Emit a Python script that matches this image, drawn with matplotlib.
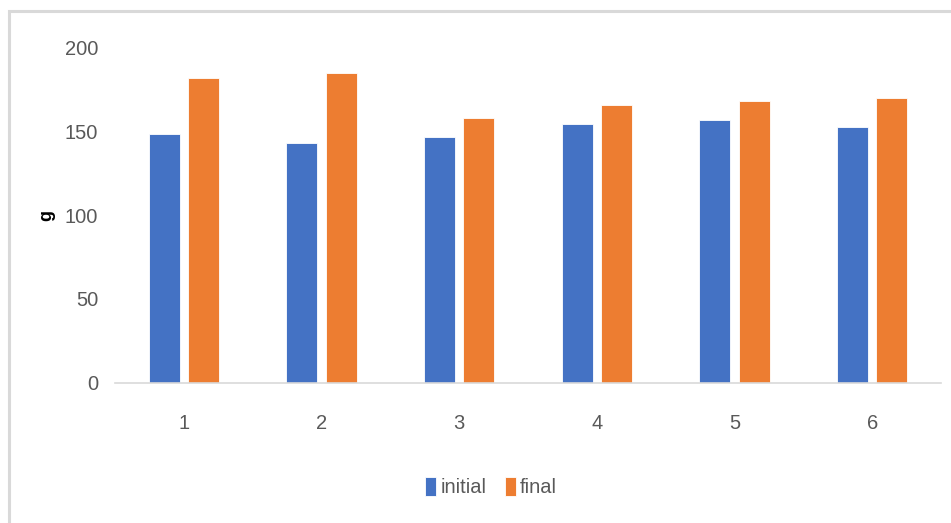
import matplotlib.pyplot as plt
import numpy as np
from matplotlib.patches import Rectangle

# Data
samples = ["1", "2", "3", "4", "5", "6"]
initial = [148, 143, 146.5, 154, 156.5, 152.5]
final = [181.5, 184.5, 157.5, 165.5, 168, 169.5]

plt.rcParams['font.family'] = ['Liberation Sans', 'DejaVu Sans']

fig = plt.figure(figsize=(9.51, 5.23), dpi=100)
ax = fig.add_axes([0.1209, 0.2677, 0.8686, 0.6424])

x = np.arange(1, len(samples) + 1)
width = 0.225
offset = 0.142

ax.bar(x - offset, initial, width, label='initial', color='#4472C4', edgecolor='white', linewidth=0.6)
ax.bar(x + offset, final, width, label='final', color='#ED7D31', edgecolor='white', linewidth=0.6)

ax.set_xlim(0.5, 6.5)
ax.set_ylim(0, 200)
ax.set_yticks([0, 50, 100, 150, 200])
ax.set_xticks(x, samples)

for side in ['top', 'right', 'left']:
    ax.spines[side].set_visible(False)
ax.spines['bottom'].set_color('#d9d9d9')
ax.spines['bottom'].set_linewidth(1.2)

ax.tick_params(axis='x', length=0, pad=22, labelsize=14.5, labelcolor='#595959')
ax.tick_params(axis='y', length=0, pad=12, labelsize=14.5, labelcolor='#595959')

ax.set_ylabel('g', fontsize=13, fontweight='bold', color='black')
ax.yaxis.set_label_coords(-0.072, 0.5)

ax.legend(loc='center', bbox_to_anchor=(491 / 951, 1 - 487 / 523), bbox_transform=fig.transFigure,
          ncol=2, frameon=False, fontsize=14.5, labelcolor='#595959',
          handlelength=0.55, handleheight=1.1, handletextpad=0.2, columnspacing=0.9)

# chart area border (top and left edges visible)
fig.patches.append(Rectangle((9 / 951, -0.1), 1.1, 1 - 11 / 523 + 0.1, transform=fig.transFigure,
                             fill=False, edgecolor='#d9d9d9', linewidth=2.2))

fig.savefig('out.png', dpi=100)
